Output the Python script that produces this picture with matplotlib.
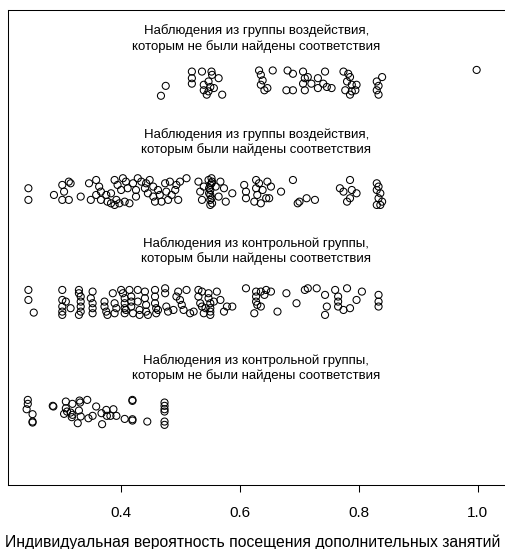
import matplotlib
matplotlib.use("Agg")
import matplotlib.pyplot as plt

plt.rcParams['font.family'] = ['Liberation Sans', 'DejaVu Sans']

# unmatched treated
ut_x = [0.467, 0.475,
        0.519, 0.519, 0.519, 0.536, 0.552, 0.553, 0.564, 0.539, 0.547, 0.550, 0.539, 0.547, 0.556, 0.544, 0.570,
        0.632, 0.635, 0.638, 0.635, 0.641, 0.646, 0.655,
        0.680, 0.689, 0.706, 0.709, 0.714, 0.706, 0.720, 0.731, 0.743, 0.740, 0.731, 0.746, 0.754, 0.678, 0.689, 0.709,
        0.774, 0.782, 0.785, 0.780, 0.788, 0.796, 0.777, 0.788, 0.785, 0.794,
        0.830, 0.833, 0.830, 0.833, 0.839,
        0.998]
ut_y = [3.88, 3.97,
        4.10, 4.04, 3.99, 4.10, 4.10, 4.07, 4.04, 3.98, 4.01, 3.96, 3.93, 3.92, 3.95, 3.89, 3.89,
        4.11, 4.07, 4.02, 3.98, 3.93, 3.95, 4.11,
        4.11, 4.08, 4.10, 4.04, 4.05, 3.99, 3.99, 4.04, 4.10, 3.99, 3.95, 3.96, 3.95, 3.93, 3.93, 3.93,
        4.10, 4.08, 4.05, 4.01, 3.98, 3.98, 3.93, 3.92, 3.89, 3.93,
        4.01, 3.97, 3.93, 3.89, 4.05,
        4.115]

# matched treated
mt_x = [0.244, 0.244, 0.287,
        0.301, 0.304, 0.312, 0.315, 0.301, 0.312, 0.332,
        0.346, 0.349, 0.358, 0.363, 0.366, 0.366, 0.358,
        0.377, 0.383, 0.389, 0.392, 0.397, 0.406, 0.414, 0.375, 0.383, 0.389, 0.394, 0.400, 0.403, 0.408,
        0.411, 0.420, 0.425, 0.425, 0.428, 0.434, 0.440, 0.442, 0.445, 0.448, 0.454, 0.454, 0.457, 0.462,
        0.465, 0.468, 0.474, 0.476, 0.479, 0.482, 0.485, 0.491, 0.493, 0.496, 0.499, 0.510,
        0.530, 0.533, 0.536, 0.539, 0.547, 0.550, 0.550, 0.550, 0.550, 0.550, 0.553, 0.553, 0.559, 0.564,
        0.567, 0.573, 0.576, 0.587, 0.552, 0.548, 0.552, 0.548, 0.552,
        0.607, 0.610, 0.610, 0.624, 0.627, 0.627, 0.629, 0.632, 0.635, 0.638, 0.644, 0.646, 0.649, 0.652,
        0.669, 0.689, 0.697, 0.700, 0.712, 0.726,
        0.768, 0.774, 0.785, 0.785, 0.788, 0.780, 0.796,
        0.830, 0.833, 0.830, 0.836, 0.833, 0.839, 0.830, 0.836]
mt_y = [3.039, 2.933, 2.978,
        3.069, 3.008, 3.099, 3.084, 2.933, 2.933, 2.963,
        3.084, 2.933, 3.114, 3.054, 3.008, 2.933, 2.978,
        2.917, 2.902, 2.887, 2.933, 2.902, 2.917, 2.902, 2.978, 2.993, 3.114, 3.069, 3.023, 3.130, 3.099,
        3.039, 3.084, 3.023, 2.963, 3.130, 3.099, 3.039, 3.084, 2.993, 3.114, 3.054, 2.963, 2.917, 3.023,
        2.978, 2.917, 3.084, 3.008, 2.933, 3.099, 2.978, 3.023, 3.069, 2.933, 3.099, 3.130,
        3.099, 3.008, 2.933, 3.054, 3.114, 3.069, 3.023, 2.978, 2.933, 2.887, 3.099, 2.902, 3.054, 2.963,
        3.099, 3.039, 2.917, 2.993, 3.130, 3.039, 2.948, 2.993, 3.084,
        3.069, 3.008, 2.948, 2.917, 3.114, 3.039, 2.978, 3.084, 2.902, 3.023, 2.948, 3.099, 2.948, 3.054,
        3.008, 3.114, 2.902, 2.917, 2.948, 2.933,
        3.039, 3.008, 3.114, 2.948, 3.023, 2.917, 2.993,
        3.084, 3.054, 3.023, 2.993, 2.948, 2.917, 2.887, 2.887]

# matched control
mc_x = [0.244, 0.244, 0.253,
        0.301, 0.301, 0.301, 0.301, 0.301, 0.307, 0.315,
        0.329, 0.329, 0.332, 0.332, 0.332, 0.332, 0.329,
        0.352, 0.352, 0.352, 0.352, 0.349,
        0.372, 0.372, 0.375, 0.377, 0.386, 0.389, 0.389, 0.392,
        0.400, 0.403, 0.406, 0.406, 0.406, 0.406, 0.408, 0.414, 0.417, 0.417, 0.417, 0.420, 0.428, 0.428,
        0.431, 0.431, 0.440, 0.440, 0.442, 0.442, 0.445, 0.457, 0.457, 0.457, 0.459, 0.459, 0.462, 0.474,
        0.474, 0.476, 0.479, 0.488,
        0.493, 0.496, 0.499, 0.502, 0.505, 0.510, 0.516, 0.522, 0.530, 0.530, 0.533, 0.536, 0.536, 0.539,
        0.542, 0.547, 0.547, 0.550, 0.550, 0.550, 0.550, 0.556, 0.561, 0.567, 0.573, 0.578, 0.587,
        0.610, 0.627, 0.627, 0.627, 0.629, 0.624, 0.635, 0.641, 0.635, 0.644, 0.652,
        0.663, 0.678, 0.695, 0.709, 0.714, 0.729, 0.743, 0.746, 0.743, 0.760, 0.765, 0.765, 0.765, 0.774,
        0.780, 0.785, 0.796, 0.805, 0.833, 0.833, 0.833]
mc_y = [2.114, 2.023, 1.908,
        2.114, 2.023, 1.963, 1.917, 1.887, 2.008, 1.948,
        2.114, 2.084, 2.054, 2.008, 1.963, 1.917, 1.887,
        2.099, 1.993, 1.948, 1.902, 2.039,
        2.008, 1.963, 1.917, 1.887, 2.084, 1.993, 1.902, 1.948,
        2.114, 2.084, 2.039, 1.993, 1.948, 1.902, 1.932, 2.114, 2.054, 2.008, 1.963, 1.902, 2.114, 2.008,
        1.932, 1.887, 2.099, 2.039, 1.978, 1.917, 1.887, 2.114, 2.054, 1.993, 1.948, 1.902, 1.932, 2.129,
        2.084, 1.963, 1.917, 1.932,
        2.054, 2.099, 2.023, 1.978, 1.932, 2.114, 1.902, 1.917, 2.114, 2.054, 1.993, 2.099, 1.963, 1.902,
        1.948, 2.084, 2.039, 1.993, 1.948, 1.917, 1.887, 2.008, 2.099, 2.023, 1.917, 1.963, 1.963,
        2.129, 2.099, 2.054, 2.008, 1.978, 1.902, 2.099, 2.069, 1.963, 2.114, 2.099,
        1.917, 2.084, 1.993, 2.114, 2.129, 2.129, 2.069, 1.963, 1.887, 2.114, 2.054, 2.008, 1.963, 1.932,
        2.129, 1.948, 2.023, 2.099, 2.069, 2.008, 1.963]

# unmatched control
uc_x = [0.243, 0.243, 0.241, 0.251, 0.251, 0.251,
        0.285, 0.286,
        0.307, 0.307, 0.304, 0.318, 0.309, 0.315, 0.318, 0.317,
        0.330, 0.331, 0.329, 0.332, 0.327, 0.343, 0.345, 0.352, 0.358, 0.367, 0.368, 0.375, 0.376, 0.382,
        0.387, 0.392,
        0.406, 0.419, 0.419, 0.419, 0.419, 0.444,
        0.473, 0.473, 0.473, 0.473, 0.473, 0.473]
uc_y = [1.114, 1.078, 1.029, 0.984, 0.917, 0.908,
        1.060, 1.054,
        1.099, 1.038, 0.987, 1.078, 1.008, 0.999, 0.978, 0.957,
        1.108, 1.090, 1.017, 0.963, 0.902, 1.114, 0.947, 0.969, 1.054, 0.993, 0.893, 1.023, 0.969, 0.969,
        1.029, 0.969,
        0.941, 1.114, 1.105, 0.938, 0.926, 0.917,
        1.090, 1.060, 1.029, 1.008, 0.917, 0.887]

labels = ["Наблюдения из группы воздействия,\nкоторым не были найдены соответствия",
          "Наблюдения из группы воздействия,\nкоторым были найдены соответствия",
          "Наблюдения из контрольной группы,\nкоторым были найдены соответствия",
          "Наблюдения из контрольной группы,\nкоторым не были найдены соответствия"]
label_y = [4.40, 3.46, 2.47, 1.40]

fig = plt.figure(figsize=(5.06, 5.49), dpi=100)
ax = fig.add_axes([8 / 506, 1 - 485 / 549, 1.01 - 8 / 506, 475 / 549])

for xs, ys in [(ut_x, ut_y), (mt_x, mt_y), (mc_x, mc_y), (uc_x, uc_y)]:
    ax.scatter(xs, ys, s=26, facecolors='none', edgecolors='black', linewidths=0.75)

for lab, yy in zip(labels, label_y):
    ax.text(0.6275, yy, lab, ha='center', va='center', fontsize=9.5, linespacing=1.22)

ax.set_xlim(0.2097, 1.0559)
ax.set_ylim(0.34, 4.66)
ax.set_yticks([])
ax.set_xticks([0.4, 0.6, 0.8, 1.0])
ax.set_xticklabels(['0.4', '0.6', '0.8', '1.0'], fontsize=11)
ax.tick_params(axis='x', length=5, width=0.75, pad=10)
ax.set_xlabel('Индивидуальная вероятность посещения дополнительных занятий', fontsize=11.35)
# centre the label on the figure rather than on the (clipped) axes box
ax.xaxis.set_label_coords((253 - 8) / (1.01 * 506 - 8), -0.105)
for sp in ax.spines.values():
    sp.set_linewidth(0.75)

fig.savefig('out.png', dpi=100)
